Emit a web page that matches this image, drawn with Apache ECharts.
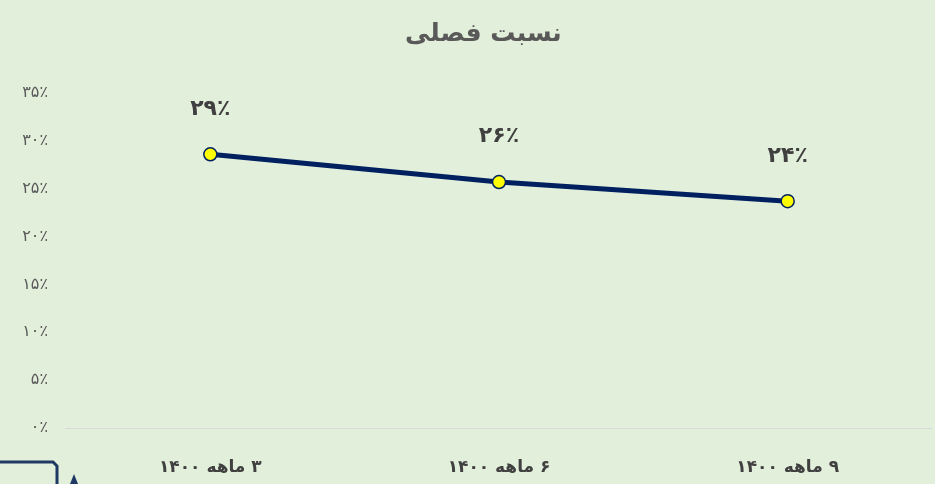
<!DOCTYPE html>
<html>
<head>
<meta charset="utf-8">
<script src="https://cdn.jsdelivr.net/npm/echarts@6/dist/echarts.min.js"></script>
<style>
  html, body { margin: 0; padding: 0; background: #e2efda; }
  #main { width: 935px; height: 484px; }
</style>
</head>
<body>
<div id="main"></div>
<script>
// داده ها
const titleText = 'نسبت فصلی'
const categories = ['۳ ماهه ۱۴۰۰', '۶ ماهه ۱۴۰۰', '۹ ماهه ۱۴۰۰']
const values = [28.6, 25.7, 23.7]
const yMin = 0
const yMax = 35
const yStep = 5

// تبدیل عدد به فارسی
function faNum (n) {
  return String(n).replace(/[0-9]/g, d => '۰۱۲۳۴۵۶۷۸۹'[d])
}

const myChart = echarts.init(document.querySelector('#main'))

const font = 'DejaVu Sans'

const option = {
  backgroundColor: '#e2efda',
  title: {
    text: titleText,
    left: 400,
    top: 17,
    textStyle: {
      fontFamily: font,
      fontSize: 25,
      fontWeight: 'bold',
      color: '#595959'
    }
  },
  grid: {
    left: 66,
    right: 3,
    top: 93,
    bottom: 56
  },
  xAxis: {
    type: 'category',
    data: categories,
    axisLine: {
      lineStyle: { color: '#d9d9d9', width: 1 }
    },
    axisTick: { show: false },
    axisLabel: {
      margin: 31,
      fontFamily: font,
      fontSize: 17,
      fontWeight: 'bold',
      color: '#404040',
      // جهت راست به چپ
      formatter: v => '\u200f' + v
    }
  },
  yAxis: {
    type: 'value',
    min: yMin,
    max: yMax,
    interval: yStep,
    splitLine: { show: false },
    axisLine: { show: false },
    axisTick: { show: false },
    axisLabel: {
      margin: 18,
      fontFamily: font,
      fontSize: 16,
      color: '#595959',
      formatter: v => faNum(v) + '٪'
    }
  },
  series: [
    {
      type: 'line',
      data: values,
      lineStyle: { color: '#002060', width: 5 },
      symbol: 'circle',
      symbolSize: 13,
      itemStyle: {
        color: '#ffff00',
        borderColor: '#002060',
        borderWidth: 1.5
      },
      label: {
        show: true,
        position: 'top',
        distance: 27,
        fontFamily: font,
        fontSize: 22,
        fontWeight: 'bold',
        color: '#404040',
        formatter: p => faNum(Math.round(p.value)) + '٪'
      }
    }
  ],
  // تکه شکل پایین چپ
  graphic: [
    {
      type: 'polyline',
      shape: { points: [[0, 462], [53, 462], [57, 466], [57, 484]] },
      style: { fill: null, stroke: '#1f3864', lineWidth: 3 }
    },
    {
      type: 'polygon',
      shape: { points: [[70, 484], [74, 474], [78, 484]] },
      style: { fill: '#1f3864' }
    }
  ]
}

myChart.setOption(option)
</script>
</body>
</html>
